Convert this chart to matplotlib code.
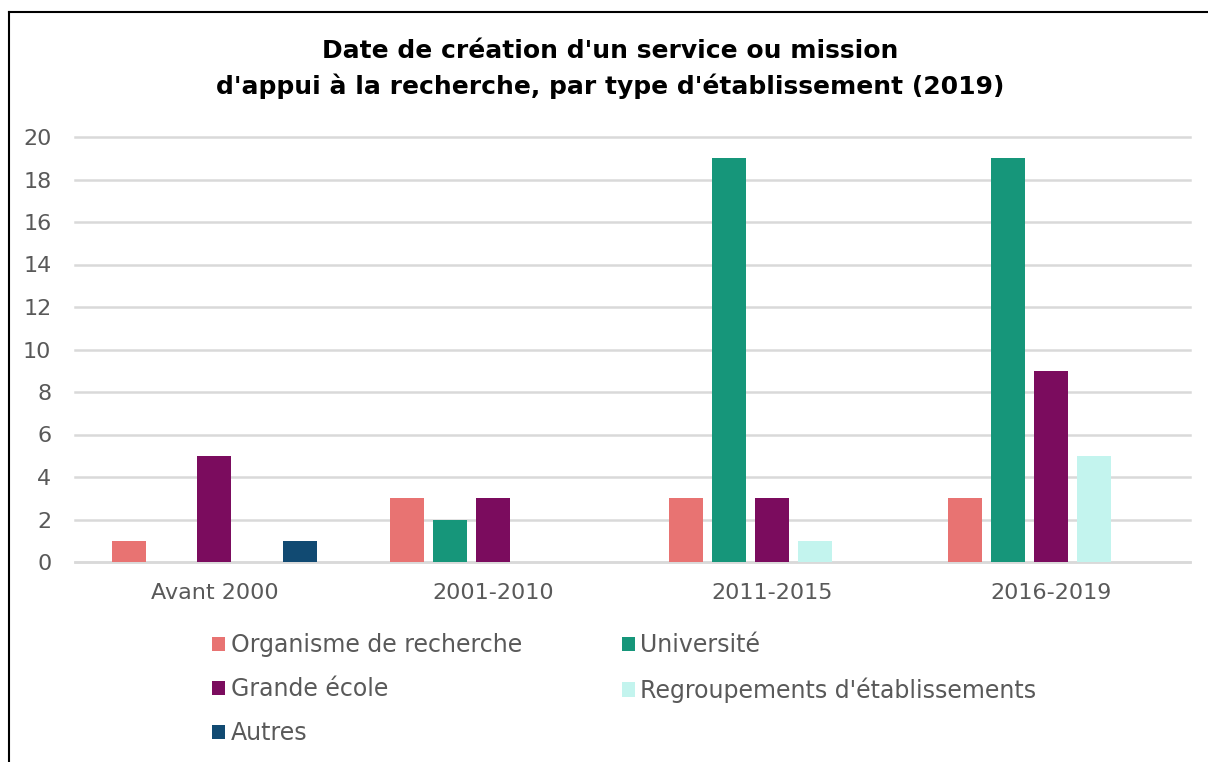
import matplotlib.pyplot as plt
import numpy as np
from matplotlib.lines import Line2D
from matplotlib.patches import Patch

categories = ["Avant 2000", "2001-2010", "2011-2015", "2016-2019"]
series_names = ["Organisme de recherche", "Université", "Grande école",
                "Regroupements d'établissements", "Autres"]
organisme = [1, 3, 3, 3]
universite = [0, 2, 19, 19]
grande_ecole = [5, 3, 3, 9]
regroupements = [0, 0, 1, 5]
autres = [1, 0, 0, 0]
yticks = [0, 2, 4, 6, 8, 10, 12, 14, 16, 18, 20]

colors = ["#E87372", "#16967A", "#7B0C5E", "#C3F4EE", "#114A72"]
values = [organisme, universite, grande_ecole, regroupements, autres]

plt.rcParams["font.family"] = ["DejaVu Sans"]
text_grey = "#595959"

fig = plt.figure(figsize=(12.08, 7.62), dpi=100)
ax = fig.add_axes([75 / 1208, 1 - 562 / 762, 1115 / 1208, 425 / 762])

x = np.arange(len(categories))
step = 0.154
width = 0.122
for i, (vals, col) in enumerate(zip(values, colors)):
    ax.bar(x + (i - 2) * step, vals, width=width, color=col, linewidth=0, zorder=3)

ax.set_xlim(-0.5, len(categories) - 0.5)
ax.set_ylim(0, 20)
ax.set_yticks(yticks)
ax.set_xticks(x)
ax.set_xticklabels(categories)
ax.tick_params(axis="both", length=0, labelsize=16, colors=text_grey)
ax.tick_params(axis="x", pad=15)
ax.tick_params(axis="y", pad=17)
ax.grid(axis="y", color="#D9D9D9", linewidth=1.8, zorder=0)
for gl in ax.get_ygridlines():
    gl.set_clip_on(False)
for s in ["top", "right", "left"]:
    ax.spines[s].set_visible(False)
ax.spines["bottom"].set_color("#D9D9D9")
ax.spines["bottom"].set_linewidth(1.8)

fig.text(0.505, 1 - 69 / 762,
         "Date de création d'un service ou mission\nd'appui à la recherche, par type d'établissement (2019)",
         ha="center", va="center", fontsize=18, fontweight="bold", linespacing=1.55)

# legend: column-wise order to match the two-column layout
order = [0, 2, 4, 1, 3]
handles = [Patch(facecolor=colors[k], edgecolor="none") for k in order]
labels = [series_names[k] for k in order]
leg = fig.legend(handles, labels, ncol=2, loc="upper left",
                 bbox_to_anchor=(191 / 1208, 1 - 612 / 762), frameon=False,
                 fontsize=17, handlelength=0.55, handleheight=0.55, handletextpad=0.25,
                 labelspacing=0.85, columnspacing=4.2, labelcolor=text_grey)

# outer frame (clipped at right and bottom edges)
fig.add_artist(Line2D([9 / 1208, 9 / 1208], [0, 1 - 12 / 762], color="black", linewidth=1.5,
                      transform=fig.transFigure))
fig.add_artist(Line2D([9 / 1208, 1], [1 - 12 / 762, 1 - 12 / 762], color="black", linewidth=1.5,
                      transform=fig.transFigure))

fig.savefig("out.png", dpi=100)
